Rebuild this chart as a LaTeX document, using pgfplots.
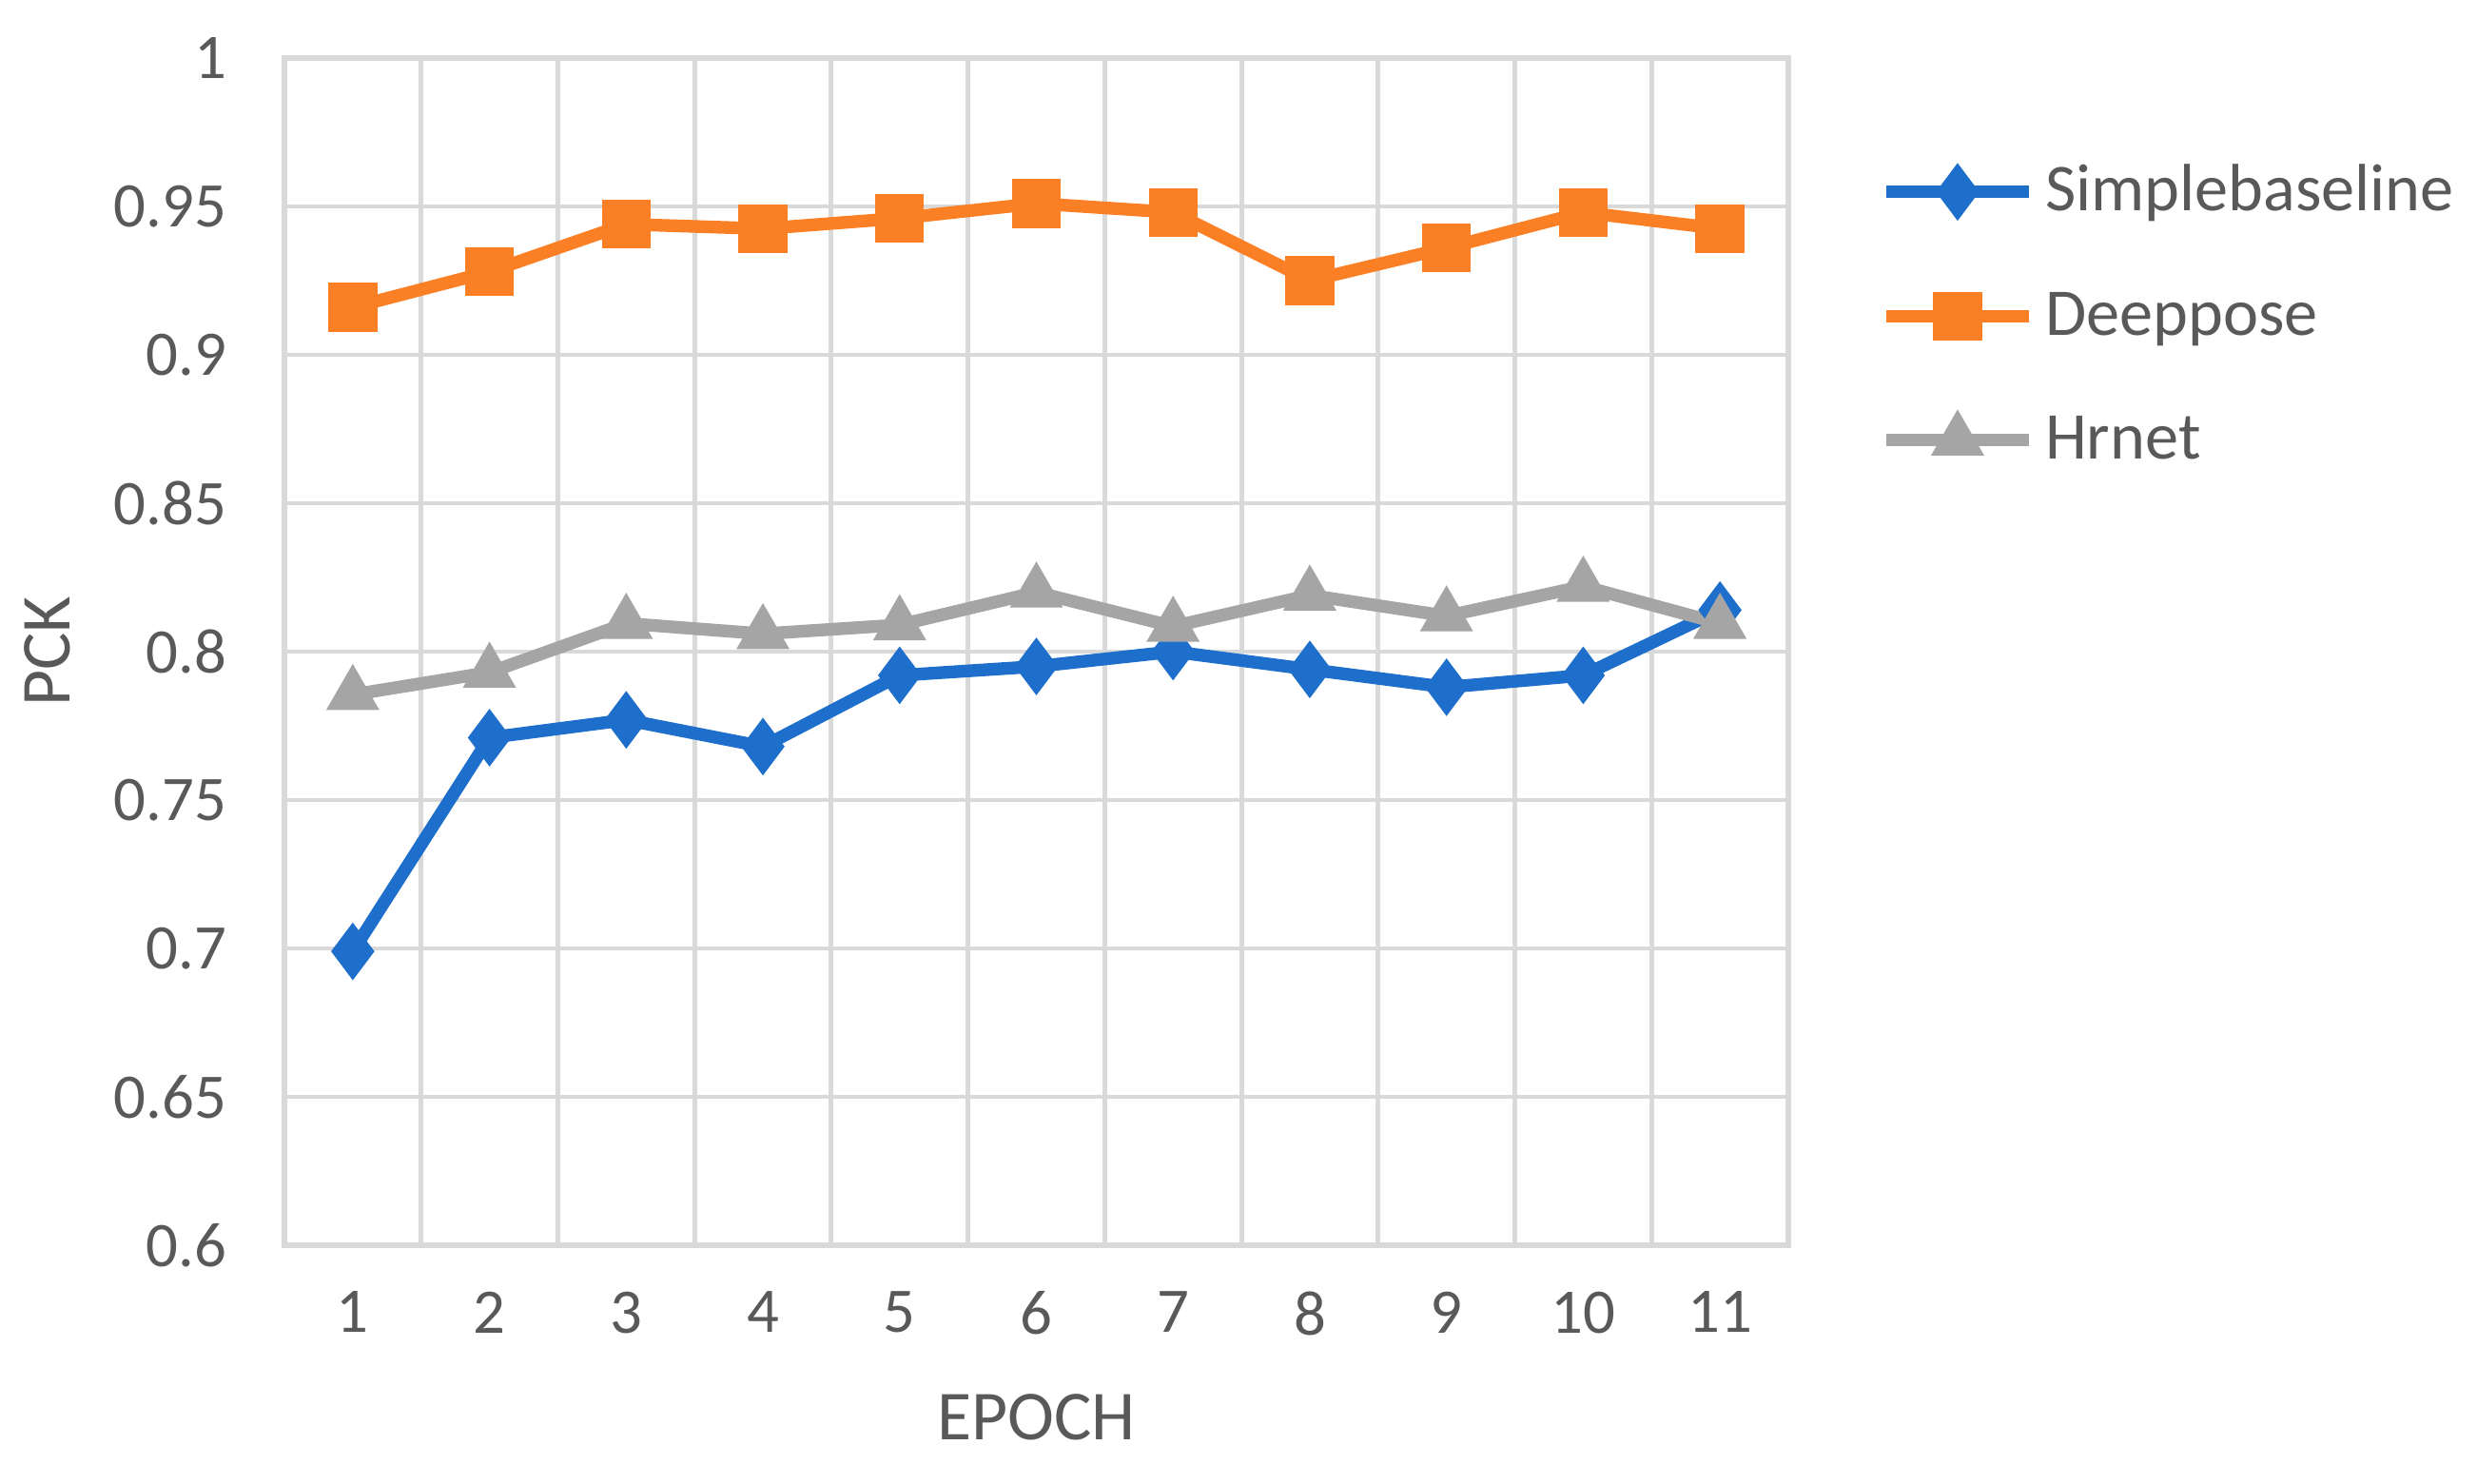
\documentclass[border=0pt]{standalone}
\usepackage{fontspec}
\setmainfont{Carlito}
\usepackage{pgfplots}
\pgfplotsset{compat=1.18}
\definecolor{cblue}{HTML}{1E6FCB}
\definecolor{corange}{HTML}{FB7F24}
\definecolor{cgray}{HTML}{A5A5A5}
\definecolor{cgrid}{HTML}{D9D9D9}
\definecolor{ctext}{HTML}{595959}
\begin{document}
\begin{tikzpicture}
\path[use as bounding box] (-1.495,-1.255) rectangle (11.525,6.545);
\begin{axis}[
  at={(0,0)}, anchor=south west,
  scale only axis,
  width=7.905cm, height=6.24cm,
  xmin=0.5, xmax=11.5,
  ymin=0.6, ymax=1.0,
  xtick={1,...,11},
  minor xtick={1.5,2.5,...,10.5},
  ytick={0.6,0.65,...,1.0},
  yticklabels={0.6,0.65,0.7,0.75,0.8,0.85,0.9,0.95,1},
  xminorgrids, ymajorgrids,
  grid style={draw=cgrid, line width=0.7pt},
  minor grid style={draw=cgrid, line width=0.7pt},
  axis line style={draw=cgrid, line width=0.9pt},
  major tick length=0pt, minor tick length=0pt,
  tick style={draw=none},
  /pgf/number format/assume math mode=true,
  ticklabel style={font=\fontsize{9.5}{11}\selectfont, text=ctext},
  xticklabel style={yshift=-0.12cm},
  yticklabel style={xshift=-0.18cm},
  xlabel={EPOCH}, ylabel={PCK},
  label style={font=\fontsize{10.5}{12}\selectfont, text=ctext},
  xlabel style={at={(axis description cs:0.5,-0.145)}, anchor=center},
  ylabel style={at={(axis description cs:-0.1575,0.5)}, anchor=center},
  legend style={draw=none, fill=none, at={(1.06,0.921)}, anchor=north west,
    inner sep=0pt, row sep=0.245cm, font=\fontsize{10}{12}\selectfont, text=ctext,
    nodes={text height=1.5ex, text depth=0.3ex, inner sep=1.5pt}},
  legend cell align=left,
  legend image code/.code={
    \draw[mark repeat=2,mark phase=2] plot coordinates {(0cm,0cm) (0.375cm,0cm) (0.75cm,0cm)};
  },
  every axis plot/.append style={line width=1.9pt},
]
\addplot[cblue, mark=diamond*, mark size=3.9pt, mark options={solid, fill=cblue, line width=0.5pt}] coordinates {
(1,0.699) (2,0.771) (3,0.777) (4,0.768) (5,0.792) (6,0.795) (7,0.800) (8,0.794) (9,0.788) (10,0.792) (11,0.814)};
\addlegendentry{Simplebaseline}
\addplot[corange, mark=square*, mark size=3.4pt, mark options={solid, fill=corange, line width=0.5pt}] coordinates {
(1,0.916) (2,0.928) (3,0.944) (4,0.9425) (5,0.946) (6,0.951) (7,0.948) (8,0.925) (9,0.936) (10,0.948) (11,0.9425)};
\addlegendentry{Deeppose}
\addplot[cgray, mark=triangle*, mark size=4.1pt, mark options={solid, fill=cgray, line width=0.5pt}] coordinates {
(1,0.7855) (2,0.793) (3,0.8095) (4,0.806) (5,0.809) (6,0.820) (7,0.8085) (8,0.819) (9,0.812) (10,0.822) (11,0.8095)};
\addlegendentry{Hrnet}
\end{axis}
\end{tikzpicture}
\end{document}
